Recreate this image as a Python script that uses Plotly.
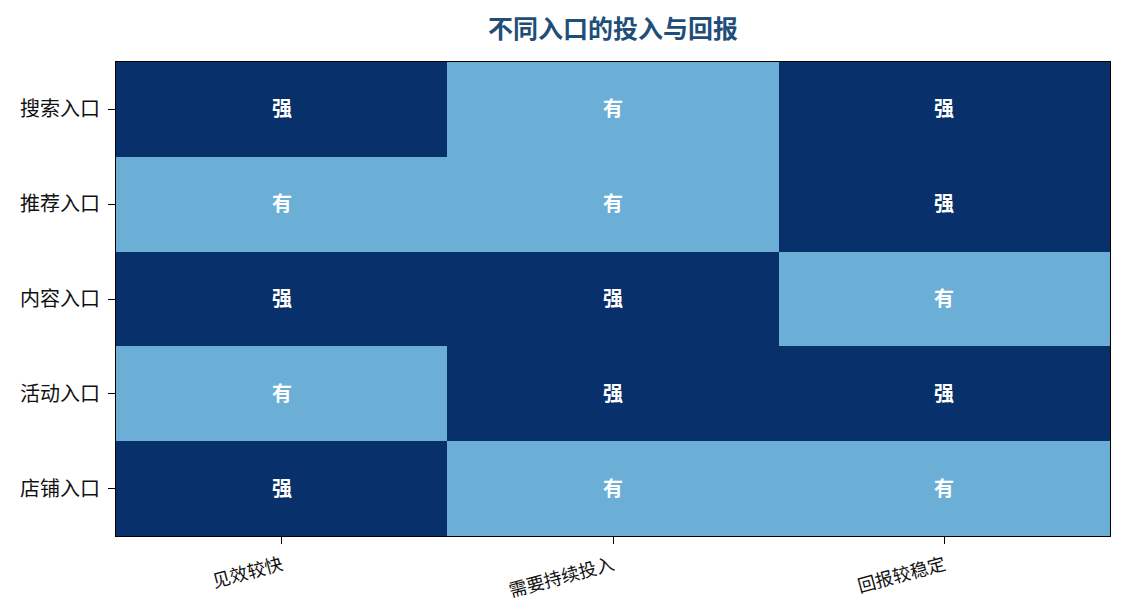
import plotly.graph_objects as go

rows = ["搜索入口", "推荐入口", "内容入口", "活动入口", "店铺入口"]
cols = ["见效较快", "需要持续投入", "回报较稳定"]
labels = [
    ["强", "有", "强"],
    ["有", "有", "强"],
    ["强", "强", "有"],
    ["有", "强", "强"],
    ["强", "有", "有"],
]
level = {"有": 0, "强": 1}
z = [[level[v] for v in r] for r in labels]

W, H = 1117, 607
fig = go.Figure(go.Heatmap(
    z=z, x=cols, y=rows, text=[[f"<b>{v}</b>" for v in r] for r in labels], texttemplate="%{text}",
    textfont=dict(color="white", size=20, family="Noto Sans CJK SC"),
    colorscale=[[0, "#6baed6"], [0.5, "#6baed6"], [0.5, "#08306b"], [1, "#08306b"]],
    zmin=0, zmax=1, showscale=False, xgap=0, ygap=0, hoverinfo="skip",
))
fig.update_layout(
    width=W, height=H,
    margin=dict(l=106, r=15, t=54, b=79),
    paper_bgcolor="white", plot_bgcolor="white",
    font=dict(family="Noto Sans CJK SC", size=15, color="#222"),
    title=dict(text="<b>不同入口的投入与回报</b>", xref="paper", x=0.5, xanchor="center",
               y=1 - 21 / H, yanchor="middle",
               font=dict(size=25, color="#1f4e79")),
)
fig.update_xaxes(tickangle=-15, showline=True, linecolor="black", linewidth=1.2, mirror=True,
                 ticks="outside", ticklen=7, tickcolor="black", ticklabelstandoff=4,
                 tickfont=dict(size=18, color="#111"))
fig.update_yaxes(autorange="reversed", showline=True, linecolor="black", linewidth=1.2, mirror=True,
                 ticks="outside", ticklen=7, tickcolor="black", ticklabelstandoff=4,
                 tickfont=dict(size=20, color="#111"))
fig.write_html("out.html")
